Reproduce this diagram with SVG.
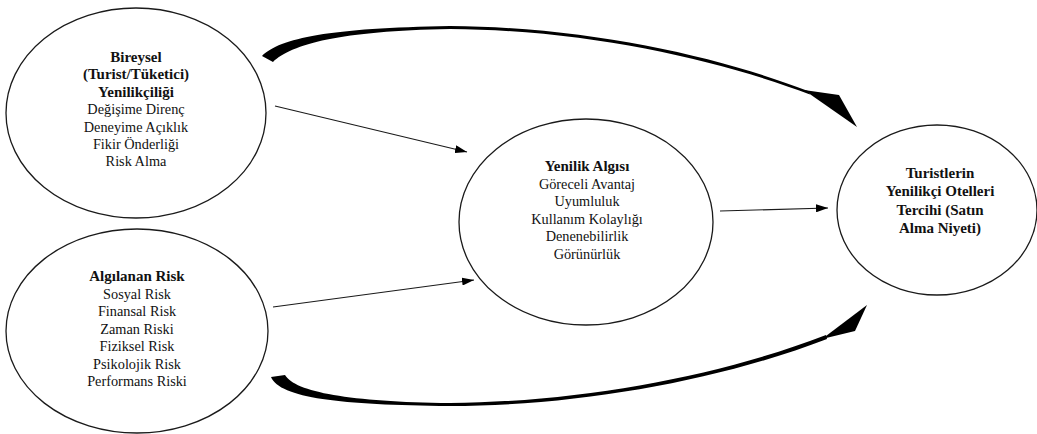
<svg xmlns="http://www.w3.org/2000/svg" width="1037" height="434" viewBox="0 0 1037 434">
  <style>
    .node { fill: #ffffff; stroke: #1a1a1a; stroke-width: 1.3; }
    .lbl { font-family: "Liberation Serif", "DejaVu Serif", serif; font-size: 14.3px; fill: #111; text-anchor: middle; }
    .b { font-weight: bold; font-size: 15px; }
    .thin { fill: none; stroke: #1a1a1a; stroke-width: 1.1; marker-end: url(#head); }
    .thick { fill: #000; stroke: none; }
  </style>
  <defs>
    <marker id="head" viewBox="0 0 12 8" refX="12" refY="4" markerWidth="12" markerHeight="8" markerUnits="userSpaceOnUse" orient="auto">
      <path d="M0,0 L12,4 L0,8 Z" fill="#000"/>
    </marker>
  </defs>

  <rect width="1037" height="434" fill="#ffffff"/>

  <!-- connectors -->
  <g id="connectors">
    <line class="thin" x1="275" y1="106" x2="467" y2="152"/>
    <line class="thin" x1="273" y1="307" x2="474" y2="280"/>
    <line class="thin" x1="720" y1="211" x2="828" y2="208"/>

    <!-- tapered curved arrow, top: thick flat tail, thin body -->
    <path class="thick" d="M262,56 C280,38 330,28 450,26 C590,27 720,57 808,91 L810,94.5 C720,60.5 590,30 450,29 C340,31 292,44 273,62 Z"/>
    <path class="thick" d="M804,90 L839,95 L857,127 Z"/>

    <!-- tapered curved arrow, bottom -->
    <path class="thick" d="M271,377 L285,375 C295,392 350,402 450,403 C580,402 720,376 826,335 L827,339 C720,380 580,406 450,406 C340,405 280,398 271,377 Z"/>
    <path class="thick" d="M822,339 L855,331 L867,305 Z"/>
  </g>

  <g id="node-bireysel">
    <ellipse class="node" cx="136" cy="113" rx="130" ry="105"/>
    <text class="lbl b" x="136" y="62">Bireysel</text>
    <text class="lbl b" x="136" y="79.4">(Turist/Tüketici)</text>
    <text class="lbl b" x="136" y="96.8">Yenilikçiliği</text>
    <text class="lbl" x="136" y="114.2">Değişime Direnç</text>
    <text class="lbl" x="136" y="131.6">Deneyime Açıklık</text>
    <text class="lbl" x="136" y="149">Fikir Önderliği</text>
    <text class="lbl" x="136" y="166.4">Risk Alma</text>
  </g>

  <g id="node-risk">
    <ellipse class="node" cx="137" cy="331" rx="131" ry="102"/>
    <text class="lbl b" x="137" y="281">Algılanan Risk</text>
    <text class="lbl" x="137" y="298.5">Sosyal Risk</text>
    <text class="lbl" x="137" y="316">Finansal Risk</text>
    <text class="lbl" x="137" y="333.5">Zaman Riski</text>
    <text class="lbl" x="137" y="351">Fiziksel Risk</text>
    <text class="lbl" x="137" y="368.5">Psikolojik Risk</text>
    <text class="lbl" x="137" y="386">Performans Riski</text>
  </g>

  <g id="node-yenilik">
    <ellipse class="node" cx="586" cy="222" rx="127" ry="103"/>
    <text class="lbl b" x="587" y="171">Yenilik Algısı</text>
    <text class="lbl" x="587" y="188.6">Göreceli Avantaj</text>
    <text class="lbl" x="587" y="206.2">Uyumluluk</text>
    <text class="lbl" x="587" y="223.8">Kullanım Kolaylığı</text>
    <text class="lbl" x="587" y="241.4">Denenebilirlik</text>
    <text class="lbl" x="587" y="259">Görünürlük</text>
  </g>

  <g id="node-tercih">
    <ellipse class="node" cx="937" cy="210" rx="100" ry="85"/>
    <text class="lbl b" x="940" y="178">Turistlerin</text>
    <text class="lbl b" x="940" y="196.3">Yenilikçi Otelleri</text>
    <text class="lbl b" x="940" y="214.6">Tercihi (Satın</text>
    <text class="lbl b" x="940" y="233">Alma Niyeti)</text>
  </g>
</svg>
